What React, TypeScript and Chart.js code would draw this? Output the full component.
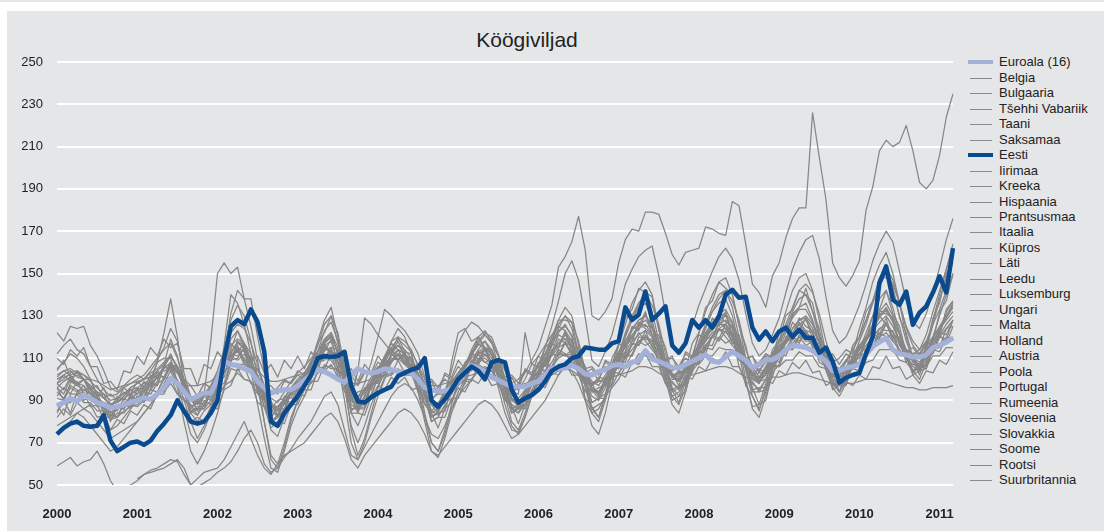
import React, { useEffect, useRef } from "react";
import { Chart, registerables } from "chart.js";

Chart.register(...registerables);

const TITLE = "Köögiviljad";
const years = ["2000", "2001", "2002", "2003", "2004", "2005", "2006", "2007", "2008", "2009", "2010", "2011"];
const yMin = 50;
const yMax = 250;
const yStep = 20;

const euroala = [
  87.5, 89, 91, 89.5, 92.5, 91, 89, 88, 86.5, 87, 88, 89,
  90, 91.3, 90.5, 93, 96, 100.5, 98, 94.3, 90.3, 92, 93.5, 93.5,
  100, 108.5, 107, 106.5, 105, 103.7, 99, 96, 93.5, 94.5, 95, 95,
  97, 99.5, 102, 104.5, 103.5, 102, 100, 98.5, 102, 105, 103.5, 103,
  103.5, 105, 104.5, 103.7, 103.5, 103, 100, 96, 95, 94.3, 94.5, 95.5,
  99, 103, 106.5, 105, 103.7, 101, 99.5, 98, 96.6, 96.5, 96.6, 98,
  99, 102, 105.3, 105, 105.3, 106.5, 105, 102.5, 102, 103.7, 104.5, 106.5,
  107, 106, 108, 109, 113.5, 109.5, 108.5, 107, 105.5, 105.3, 107, 108.5,
  110, 111.6, 108.5, 108, 110.5, 113, 111, 109, 105.5, 107, 109.2, 109.2,
  111, 114, 116, 115.5, 115, 113.5, 111, 108.5, 104, 104, 105.3, 106,
  107, 112, 115.5, 117.5, 119.5, 114, 112, 111.5, 110.5, 110.5, 111.5, 115,
  116, 117.5, 119.5,
];

const eesti = [
  74, 77, 79, 80, 78, 77.5, 78, 83, 71, 66, 68, 70,
  70.6, 69, 71, 75.5, 79, 83, 90, 85, 80, 79, 80, 84,
  90, 110, 125, 128, 126, 133, 127, 113, 80, 78, 84, 88,
  92, 97, 102, 110, 111, 110.5, 111, 113, 97, 89.5, 89, 91.5,
  93.5, 95, 96.5, 101.5, 103, 104.5, 105.5, 110, 90, 87, 90.5, 95,
  100, 103, 106, 104, 100, 108, 109, 108, 95, 89, 91, 92.5,
  95, 99, 104, 106, 107, 110, 111, 115, 114.5, 114, 114, 117,
  118, 134, 128, 130.5, 141.5, 128, 131, 134.5, 116, 112.6, 117, 128,
  124.4, 128, 124.4, 129.7, 140, 142.3, 138.5, 139, 124.4, 118.7, 122.6, 118,
  122.6, 124.4, 120, 123.4, 119.6, 119.6, 112.5, 115, 108.5, 98.4, 100.7, 102,
  103, 112, 120, 145.6, 153.4, 137.6, 135.2, 141.5, 125.8, 131.5, 134.5, 141,
  148.7, 141, 162,
];

const belgia = [
  94, 91, 97, 95, 90, 92, 88, 89, 84, 87, 86, 91,
  90, 94, 93, 98, 100, 106, 99, 95, 87, 89, 88, 94,
  96, 106, 109, 114, 107, 105, 96, 93, 86, 90, 91, 96,
  95, 101, 100, 108, 109, 114, 105, 101, 91, 94, 95, 101,
  103, 109, 108, 112, 107, 107, 100, 98, 90, 94, 95, 100,
  100, 105, 104, 110, 108, 109, 102, 100, 93, 97, 96, 102,
  102, 107, 106, 113, 111, 114, 106, 105, 97, 101, 100, 107,
  105, 112, 111, 118, 116, 118, 110, 109, 101, 104, 103, 110,
  108, 115, 114, 120, 117, 119, 111, 110, 102, 105, 103, 110,
  108, 115, 114, 120, 116, 118, 110, 109, 101, 104, 102, 109,
  107, 114, 114, 122, 120, 121, 112, 111, 104, 107, 106, 114,
  113, 120, 119,
];

const bulgaaria = [
  59, 61, 63, 59, 61, 62, 66, 60, 52, 47, 49, 50,
  52, 55, 57, 58, 60, 62, 61, 55, 50, 53, 56, 57,
  58, 62, 68, 74, 80, 72, 64, 58, 55, 60, 64, 66,
  68, 70, 74, 78, 82, 84, 80, 72, 62, 58, 64, 68,
  72, 76, 80, 84, 86, 84, 80, 74, 66, 64, 68, 72,
  76, 80, 84, 88, 90, 88, 84, 78, 72, 74, 78, 82,
  86, 90, 96, 102, 106, 104, 98, 90, 84, 86, 92, 96,
  100, 106, 112, 118, 120, 116, 108, 98, 92, 94, 100, 104,
  108, 114, 120, 126, 128, 124, 116, 106, 100, 98, 104, 108,
  112, 118, 124, 128, 130, 126, 118, 108, 100, 98, 104, 110,
  114, 120, 126, 132, 136, 130, 122, 114, 108, 106, 112, 118,
  124, 130, 136,
];

const tsehhi = [
  84, 90, 84, 94, 95, 96, 88, 88, 80, 87, 86, 92,
  90, 97, 99, 108, 110, 110, 98, 94, 84, 86, 86, 94,
  96, 108, 114, 123, 115, 110, 96, 92, 80, 82, 84, 94,
  94, 103, 106, 117, 122, 130, 117, 106, 88, 86, 86, 97,
  99, 110, 113, 120, 113, 112, 100, 94, 82, 84, 85, 96,
  98, 108, 111, 120, 115, 114, 102, 97, 86, 88, 88, 100,
  104, 115, 118, 128, 128, 127, 112, 106, 94, 96, 97, 110,
  116, 129, 133, 143, 141, 139, 123, 115, 102, 103, 104, 117,
  122, 134, 137, 146, 143, 140, 125, 116, 102, 101, 102, 114,
  118, 130, 133, 142, 140, 136, 121, 114, 102, 103, 104, 116,
  120, 132, 137, 148, 148, 144, 129, 122, 110, 111, 114, 129,
  136, 150, 155,
];

const taani = [
  98, 95, 101, 98, 100, 95, 97, 91, 93, 90, 96, 93,
  99, 96, 102, 100, 106, 104, 105, 97, 97, 92, 98, 96,
  103, 103, 111, 109, 112, 105, 105, 97, 97, 93, 99, 98,
  104, 102, 109, 108, 115, 112, 112, 103, 102, 97, 103, 102,
  108, 106, 112, 109, 112, 106, 107, 100, 100, 96, 102, 100,
  106, 103, 109, 107, 112, 107, 108, 101, 102, 98, 104, 102,
  108, 106, 112, 111, 117, 112, 113, 105, 106, 102, 108, 106,
  112, 110, 117, 116, 121, 116, 117, 109, 110, 106, 112, 110,
  116, 114, 120, 118, 123, 117, 118, 110, 111, 106, 112, 110,
  116, 114, 120, 118, 122, 116, 117, 110, 112, 107, 112, 110,
  116, 114, 121, 120, 126, 120, 120, 113, 115, 111, 117, 116,
  122, 121, 128,
];

const saksamaa = [
  85, 89, 89, 93, 89, 89, 85, 85, 81, 84, 84, 88,
  87, 90, 90, 94, 94, 98, 93, 91, 85, 86, 86, 90,
  91, 97, 99, 103, 100, 99, 93, 91, 85, 87, 88, 93,
  93, 97, 98, 103, 104, 107, 101, 98, 91, 92, 93, 98,
  98, 102, 102, 105, 102, 102, 97, 96, 91, 93, 93, 97,
  97, 100, 100, 104, 103, 104, 99, 98, 94, 96, 96, 100,
  99, 103, 103, 107, 107, 108, 103, 102, 97, 99, 99, 103,
  103, 107, 107, 112, 111, 112, 107, 106, 101, 103, 103, 107,
  107, 111, 111, 115, 114, 114, 109, 107, 102, 103, 103, 107,
  106, 109, 109, 113, 111, 111, 106, 105, 101, 102, 101, 105,
  104, 108, 109, 114, 114, 114, 109, 108, 104, 106, 106, 111,
  111, 115, 115,
];

const iirimaa = [
  110, 107, 114, 111, 115, 106, 106, 98, 99, 95, 104, 103,
  111, 107, 115, 111, 119, 115, 117, 105, 105, 97, 107, 105,
  113, 109, 117, 113, 117, 109, 111, 103, 107, 101, 109, 105,
  111, 105, 113, 109, 117, 111, 113, 103, 105, 99, 107, 103,
  111, 107, 115, 109, 113, 105, 107, 97, 99, 93, 103, 101,
  109, 105, 113, 109, 115, 107, 109, 99, 101, 95, 105, 103,
  111, 107, 117, 115, 123, 115, 115, 103, 105, 99, 109, 107,
  117, 115, 125, 123, 131, 121, 121, 109, 111, 103, 113, 111,
  121, 119, 129, 125, 131, 121, 121, 109, 111, 103, 111, 109,
  119, 117, 127, 123, 129, 119, 119, 107, 109, 101, 109, 107,
  115, 113, 123, 121, 129, 119, 119, 109, 111, 105, 115, 113,
  121, 117, 125,
];

const kreeka = [
  112, 116, 119, 114, 112, 106, 100, 95, 92, 93, 96, 98,
  100, 102, 106, 110, 114, 117, 110, 100, 91, 88, 92, 97,
  104, 114, 122, 126, 124, 117, 107, 96, 87, 85, 89, 94,
  97, 101, 107, 113, 119, 122, 115, 104, 92, 87, 91, 96,
  101, 106, 111, 114, 112, 108, 101, 93, 85, 83, 87, 93,
  98, 103, 108, 112, 114, 110, 103, 95, 88, 86, 90, 97,
  102, 107, 112, 117, 121, 117, 108, 99, 92, 90, 96, 103,
  110, 116, 121, 125, 128, 124, 115, 105, 98, 96, 101, 108,
  114, 119, 124, 128, 130, 124, 115, 105, 98, 95, 100, 107,
  112, 117, 122, 126, 128, 122, 114, 105, 100, 98, 101, 107,
  112, 118, 124, 129, 133, 127, 118, 111, 106, 104, 109, 116,
  121, 126, 130,
];

const hispaania = [
  96, 90, 98, 104, 100, 96, 92, 96, 88, 90, 94, 92,
  96, 94, 98, 104, 100, 108, 104, 96, 90, 92, 98, 96,
  100, 106, 112, 118, 114, 108, 100, 96, 94, 96, 100, 98,
  102, 100, 104, 110, 116, 112, 108, 102, 96, 98, 104, 102,
  106, 104, 108, 112, 108, 104, 100, 98, 94, 96, 100, 98,
  102, 104, 106, 112, 108, 106, 102, 100, 98, 100, 104, 102,
  106, 104, 108, 114, 112, 108, 104, 100, 98, 100, 106, 104,
  108, 112, 116, 122, 118, 114, 110, 106, 104, 106, 110, 108,
  112, 116, 120, 124, 120, 116, 112, 108, 106, 108, 112, 110,
  114, 118, 122, 126, 122, 118, 114, 110, 108, 110, 114, 112,
  116, 120, 124, 130, 126, 122, 118, 114, 112, 114, 118, 116,
  120, 124, 128,
];

const prantsusmaa = [
  98, 102, 104, 101, 100, 97, 94, 91, 88, 89, 92, 96,
  98, 100, 101, 104, 107, 111, 106, 99, 92, 90, 93, 96,
  100, 106, 111, 115, 113, 108, 101, 93, 88, 87, 90, 94,
  98, 100, 103, 108, 111, 113, 108, 101, 94, 92, 95, 98,
  102, 105, 109, 110, 107, 104, 99, 94, 89, 88, 91, 96,
  100, 102, 106, 109, 110, 107, 102, 97, 92, 91, 95, 100,
  104, 107, 111, 115, 117, 113, 108, 101, 96, 94, 99, 104,
  109, 113, 118, 121, 123, 120, 114, 107, 101, 99, 103, 108,
  112, 116, 120, 123, 124, 120, 114, 107, 101, 99, 102, 106,
  110, 113, 117, 120, 120, 116, 112, 107, 103, 101, 103, 106,
  108, 112, 116, 120, 122, 118, 114, 110, 107, 106, 110, 114,
  116, 118, 120,
];

const itaalia = [
  91, 90, 96, 94, 97, 90, 91, 84, 85, 82, 88, 87,
  92, 89, 95, 94, 101, 100, 100, 90, 88, 83, 90, 88,
  95, 96, 105, 104, 106, 98, 97, 87, 86, 82, 89, 88,
  94, 92, 99, 99, 107, 105, 105, 94, 91, 85, 92, 91,
  97, 95, 101, 98, 101, 95, 96, 88, 88, 84, 91, 90,
  96, 94, 100, 98, 103, 97, 98, 90, 91, 87, 93, 92,
  98, 96, 103, 102, 108, 102, 102, 94, 95, 91, 98, 97,
  103, 101, 108, 107, 112, 106, 106, 98, 99, 95, 102, 100,
  106, 104, 110, 108, 113, 106, 106, 98, 99, 94, 100, 98,
  104, 102, 108, 105, 109, 103, 104, 97, 99, 94, 99, 97,
  102, 100, 106, 105, 111, 105, 106, 100, 102, 98, 104, 103,
  109, 107, 113,
];

const kypros = [
  122, 118, 125, 124, 125, 116, 111, 104, 96, 94, 97, 100,
  102, 100, 104, 109, 115, 124, 118, 103, 91, 88, 93, 118,
  150, 155, 150, 153, 138, 138, 120, 104, 90, 82, 86, 94,
  98, 102, 108, 116, 126, 130, 122, 106, 90, 86, 92, 98,
  104, 110, 118, 120, 118, 114, 106, 96, 84, 86, 92, 98,
  102, 106, 112, 118, 122, 120, 112, 100, 90, 88, 94, 100,
  104, 109, 116, 124, 130, 127, 118, 104, 96, 93, 100, 106,
  112, 121, 128, 136, 140, 135, 126, 112, 102, 99, 104, 110,
  116, 125, 132, 138, 142, 137, 128, 114, 106, 101, 106, 112,
  118, 126, 134, 142, 145, 141, 131, 118, 108, 104, 108, 114,
  120, 128, 137, 145, 150, 145, 136, 124, 116, 112, 118, 126,
  133, 142, 149,
];

const lati = [
  96, 99, 101, 97, 100, 95, 91, 87, 83, 86, 89, 91,
  93, 95, 97, 101, 106, 112, 105, 95, 85, 83, 88, 93,
  99, 109, 119, 123, 117, 109, 99, 87, 79, 82, 89, 93,
  97, 99, 105, 111, 117, 121, 112, 99, 85, 88, 95, 99,
  105, 111, 117, 114, 112, 109, 103, 93, 85, 88, 95, 99,
  103, 107, 113, 117, 114, 112, 105, 99, 95, 98, 103, 109,
  115, 125, 135, 153, 158, 165, 177, 161, 130, 128, 132, 138,
  155, 166, 171, 170, 179, 179, 178, 169, 159, 154, 160, 161,
  162, 172, 171, 169, 168, 184, 182, 164, 145, 141, 134, 149,
  155, 167, 176, 181, 181, 226, 205, 185, 155, 148, 144, 149,
  156, 180, 191, 208, 213, 210, 212, 220, 208, 193, 190, 194,
  206, 224, 235,
];

const leedu = [
  105, 108, 112, 110, 106, 100, 92, 84, 76, 78, 82, 86,
  90, 94, 100, 108, 122, 138, 120, 98, 80, 72, 78, 86,
  96, 112, 128, 135, 130, 118, 100, 80, 62, 58, 68, 80,
  90, 98, 108, 118, 128, 134, 120, 100, 76, 64, 72, 84,
  96, 108, 118, 124, 120, 112, 100, 84, 70, 66, 76, 88,
  98, 106, 114, 120, 123, 118, 106, 92, 80, 76, 84, 94,
  104, 112, 120, 128, 134, 130, 116, 100, 86, 82, 92, 104,
  116, 126, 136, 142, 146, 140, 124, 108, 96, 92, 100, 110,
  122, 132, 140, 146, 148, 140, 126, 110, 96, 88, 98, 110,
  122, 132, 142, 148, 150, 142, 128, 112, 100, 94, 102, 112,
  124, 134, 146, 154, 160, 150, 136, 120, 110, 106, 116, 128,
  140, 152, 164,
];

const luksemburg = [
  100, 101, 102, 103, 102, 100, 99, 97, 95, 96, 97, 98,
  99, 100, 101, 103, 104, 105, 103, 100, 97, 97, 98, 99,
  102, 104, 106, 107, 107, 106, 104, 101, 99, 99, 100, 101,
  102, 103, 104, 105, 106, 106, 104, 101, 98, 98, 99, 100,
  101, 102, 103, 104, 104, 103, 101, 99, 97, 97, 98, 99,
  100, 101, 102, 103, 103, 102, 100, 98, 97, 97, 98, 99,
  100, 101, 102, 104, 105, 104, 102, 100, 98, 99, 100, 101,
  102, 103, 104, 106, 106, 105, 103, 101, 100, 100, 101, 102,
  103, 104, 105, 106, 106, 105, 103, 101, 100, 99, 100, 101,
  101, 102, 103, 103, 102, 101, 100, 99, 98, 97, 98, 98,
  99, 100, 100, 100, 99, 98, 97, 96, 96, 95, 95, 96,
  96, 96, 97,
];

const ungari = [
  88, 83, 93, 93, 94, 87, 88, 81, 83, 82, 89, 86,
  92, 91, 98, 97, 106, 107, 106, 94, 91, 85, 92, 90,
  97, 98, 109, 110, 115, 106, 102, 90, 88, 83, 90, 89,
  96, 95, 103, 104, 114, 115, 114, 99, 92, 84, 92, 92,
  101, 102, 110, 109, 111, 104, 101, 88, 84, 77, 86, 89,
  99, 98, 107, 108, 115, 107, 103, 90, 87, 79, 88, 92,
  102, 103, 114, 115, 122, 113, 106, 91, 87, 82, 93, 98,
  110, 113, 124, 125, 132, 121, 114, 99, 95, 89, 99, 103,
  115, 118, 127, 127, 132, 119, 112, 97, 92, 85, 96, 101,
  113, 118, 131, 134, 143, 132, 124, 109, 103, 94, 103, 107,
  116, 119, 130, 133, 142, 131, 125, 112, 109, 102, 113, 118,
  132, 137, 150,
];

const malta = [
  96, 93, 100, 97, 100, 93, 94, 86, 88, 85, 91, 89,
  95, 92, 99, 97, 106, 105, 106, 94, 92, 85, 93, 91,
  100, 101, 112, 111, 114, 103, 102, 90, 89, 83, 92, 91,
  99, 97, 106, 106, 116, 113, 112, 99, 95, 87, 96, 95,
  104, 103, 112, 109, 112, 103, 103, 92, 91, 85, 94, 93,
  101, 99, 108, 107, 114, 107, 107, 95, 94, 93, 122, 107,
  106, 103, 112, 111, 118, 111, 110, 98, 98, 92, 101, 100,
  109, 108, 117, 116, 123, 115, 114, 103, 103, 97, 105, 104,
  113, 112, 121, 119, 126, 117, 116, 105, 105, 98, 106, 105,
  113, 111, 119, 117, 123, 115, 115, 105, 106, 99, 106, 105,
  112, 111, 120, 119, 127, 118, 118, 108, 110, 104, 112, 112,
  120, 119, 128,
];

const holland = [
  102, 104, 105, 103, 100, 97, 94, 91, 88, 89, 92, 95,
  96, 98, 100, 102, 105, 108, 103, 97, 91, 89, 92, 96,
  101, 106, 111, 113, 110, 105, 99, 92, 87, 87, 91, 96,
  99, 102, 105, 108, 110, 109, 104, 97, 92, 104, 129, 126,
  121, 117, 113, 111, 109, 105, 100, 94, 89, 89, 93, 98,
  103, 106, 110, 113, 115, 112, 105, 97, 91, 89, 93, 99,
  104, 108, 113, 117, 119, 115, 108, 100, 95, 93, 98, 105,
  110, 115, 120, 124, 126, 121, 114, 106, 101, 99, 104, 110,
  115, 120, 124, 126, 126, 121, 114, 107, 102, 99, 102, 108,
  113, 117, 121, 123, 123, 118, 113, 107, 104, 102, 105, 110,
  114, 118, 123, 127, 130, 125, 118, 113, 110, 108, 113, 120,
  125, 130, 135,
];

const austria = [
  98, 100, 103, 104, 102, 99, 96, 93, 90, 91, 93, 96,
  98, 100, 103, 105, 108, 111, 106, 99, 92, 90, 93, 97,
  102, 109, 116, 119, 117, 112, 105, 97, 91, 89, 94, 99,
  103, 106, 110, 113, 117, 120, 113, 103, 93, 91, 98, 108,
  120, 133, 130, 126, 123, 118, 112, 101, 90, 88, 94, 104,
  117, 123, 127, 125, 121, 117, 111, 104, 97, 95, 100, 107,
  111, 116, 121, 125, 123, 118, 111, 104, 99, 97, 102, 107,
  112, 118, 123, 128, 130, 125, 116, 108, 102, 101, 105, 111,
  116, 121, 126, 130, 131, 126, 117, 109, 103, 100, 105, 110,
  114, 119, 124, 128, 129, 124, 117, 110, 105, 102, 105, 110,
  114, 119, 125, 130, 134, 128, 121, 114, 109, 107, 112, 118,
  123, 129, 134,
];

const poola = [
  78, 80, 82, 84, 82, 78, 74, 70, 66, 68, 72, 76,
  80, 84, 88, 94, 100, 106, 98, 86, 74, 70, 76, 84,
  96, 116, 140, 136, 126, 112, 96, 80, 64, 60, 70, 82,
  90, 96, 102, 110, 118, 122, 112, 96, 78, 70, 78, 88,
  96, 104, 112, 116, 112, 106, 96, 82, 70, 66, 74, 86,
  94, 100, 108, 114, 118, 112, 100, 88, 78, 74, 82, 92,
  102, 110, 118, 126, 130, 124, 112, 96, 84, 80, 90, 102,
  112, 122, 130, 136, 140, 132, 118, 104, 92, 88, 96, 108,
  118, 126, 134, 140, 142, 134, 120, 104, 92, 86, 94, 106,
  116, 124, 132, 138, 140, 132, 120, 108, 98, 94, 100, 110,
  118, 126, 136, 144, 150, 142, 130, 118, 110, 106, 114, 126,
  138, 148, 158,
];

const portugal = [
  92, 96, 93, 99, 93, 94, 87, 88, 82, 87, 86, 93,
  90, 96, 95, 102, 101, 108, 99, 96, 85, 87, 87, 95,
  96, 107, 109, 116, 109, 106, 94, 90, 80, 83, 84, 95,
  95, 102, 103, 112, 113, 119, 108, 101, 86, 86, 87, 99,
  102, 111, 112, 118, 111, 110, 99, 93, 80, 82, 88, 108,
  122, 124, 118, 120, 114, 114, 103, 97, 84, 86, 88, 101,
  103, 112, 113, 121, 119, 119, 106, 100, 89, 91, 93, 105,
  108, 118, 119, 127, 125, 125, 112, 106, 94, 96, 98, 109,
  112, 122, 123, 130, 127, 125, 112, 106, 94, 94, 95, 107,
  110, 120, 121, 129, 125, 123, 112, 107, 96, 98, 98, 109,
  110, 120, 122, 131, 131, 129, 116, 113, 103, 106, 107, 118,
  122, 133, 137,
];

const rumeenia = [
  null, null, null, null, null, null, null, null, null, null, null, null,
  53, 55, 56, 57, 58, 60, 62, 58, 50, 49, 51, 53,
  56, 58, 61, 66, 72, 76, 70, 60, 56, 58, 63, 67,
  72, 76, 80, 86, 92, 94, 88, 76, 64, 62, 68, 74,
  80, 86, 92, 96, 98, 96, 90, 82, 74, 72, 78, 86,
  92, 96, 100, 104, 106, 104, 98, 92, 86, 84, 88, 94,
  98, 102, 106, 110, 112, 110, 104, 98, 94, 94, 98, 102,
  106, 110, 114, 118, 120, 118, 112, 106, 102, 102, 106, 110,
  114, 118, 122, 124, 126, 122, 116, 110, 106, 104, 108, 112,
  116, 118, 120, 122, 122, 118, 114, 110, 106, 104, 106, 110,
  112, 116, 120, 124, 126, 122, 118, 114, 112, 112, 116, 120,
  124, 128, 132,
];

const sloveenia = [
  100, 102, 99, 97, 95, 93, 91, 89, 88, 89, 91, 93,
  95, 96, 98, 101, 106, 111, 106, 98, 91, 89, 92, 96,
  100, 106, 113, 117, 115, 109, 102, 94, 88, 86, 91, 96,
  100, 103, 108, 113, 118, 120, 113, 103, 93, 90, 94, 99,
  105, 110, 114, 116, 114, 110, 103, 95, 88, 86, 91, 98,
  103, 107, 112, 116, 118, 114, 107, 98, 91, 89, 94, 101,
  107, 112, 118, 123, 125, 121, 112, 103, 96, 94, 100, 107,
  113, 118, 124, 128, 130, 126, 118, 109, 102, 100, 105, 111,
  116, 122, 127, 131, 133, 127, 119, 110, 103, 100, 105, 112,
  118, 123, 129, 133, 133, 127, 120, 113, 107, 105, 109, 114,
  120, 128, 137, 146, 153, 147, 136, 125, 118, 114, 121, 132,
  142, 152, 162,
];

const slovakkia = [
  74, 76, 80, 84, 86, 84, 80, 76, 72, 74, 76, 78,
  80, 84, 88, 92, 98, 104, 96, 80, 66, 60, 66, 74,
  84, 96, 108, 118, 116, 104, 88, 72, 58, 56, 66, 78,
  86, 92, 100, 108, 116, 118, 108, 90, 70, 62, 70, 82,
  92, 100, 108, 112, 110, 104, 94, 80, 66, 63, 72, 84,
  92, 98, 106, 112, 114, 108, 96, 84, 76, 75, 82, 92,
  100, 108, 116, 122, 126, 120, 106, 90, 78, 74, 84, 98,
  110, 120, 128, 134, 136, 128, 114, 100, 88, 84, 94, 106,
  116, 124, 132, 136, 138, 130, 116, 100, 86, 82, 92, 104,
  114, 122, 130, 134, 136, 128, 116, 104, 96, 92, 98, 108,
  114, 122, 130, 138, 142, 134, 122, 112, 104, 100, 108, 120,
  130, 140, 150,
];

const soome = [
  104, 109, 101, 102, 100, 100, 92, 93, 86, 92, 90, 95,
  93, 99, 96, 102, 101, 107, 98, 96, 86, 89, 88, 96,
  97, 107, 109, 115, 108, 106, 94, 91, 82, 86, 86, 95,
  94, 101, 101, 110, 110, 115, 105, 100, 86, 87, 88, 98,
  99, 107, 108, 114, 108, 107, 96, 92, 82, 84, 85, 96,
  97, 104, 105, 113, 111, 112, 100, 95, 84, 87, 88, 99,
  102, 110, 111, 119, 117, 116, 103, 97, 86, 88, 90, 103,
  107, 117, 118, 126, 124, 121, 108, 102, 90, 92, 94, 106,
  108, 119, 120, 127, 124, 121, 106, 99, 87, 88, 90, 103,
  107, 118, 119, 127, 123, 122, 110, 106, 95, 97, 97, 107,
  108, 119, 122, 132, 132, 129, 116, 111, 102, 104, 105, 118,
  121, 132, 137,
];

const rootsi = [
  101, 104, 102, 98, 97, 93, 91, 86, 81, 82, 85, 87,
  88, 91, 95, 99, 107, 119, 111, 97, 84, 80, 85, 88,
  97, 111, 131, 142, 138, 125, 109, 91, 76, 73, 82, 88,
  93, 98, 104, 113, 123, 127, 118, 103, 84, 78, 86, 93,
  101, 109, 115, 119, 116, 113, 107, 95, 82, 85, 91, 96,
  100, 105, 111, 117, 121, 118, 111, 99, 87, 84, 91, 99,
  107, 115, 125, 137, 150, 156, 147, 129, 109, 106, 113, 121,
  133, 145, 152, 158, 161, 163, 149, 131, 117, 112, 117, 125,
  135, 143, 151, 158, 162, 157, 147, 131, 117, 111, 114, 121,
  129, 141, 152, 160, 166, 168, 157, 139, 123, 117, 120, 127,
  135, 145, 156, 164, 170, 165, 151, 137, 127, 124, 131, 141,
  153, 166, 176,
];

const suurbritannia = [
  82, 86, 83, 89, 86, 88, 82, 83, 76, 81, 79, 85,
  83, 88, 86, 93, 93, 101, 93, 90, 80, 82, 80, 87,
  86, 95, 97, 105, 100, 99, 89, 87, 77, 80, 79, 88,
  88, 95, 95, 104, 105, 112, 102, 98, 84, 84, 83, 92,
  93, 101, 102, 109, 103, 103, 94, 91, 80, 82, 82, 91,
  91, 99, 99, 107, 105, 106, 97, 94, 84, 87, 86, 95,
  96, 104, 104, 112, 111, 112, 102, 99, 89, 91, 91, 101,
  102, 111, 111, 120, 119, 119, 108, 105, 95, 97, 97, 107,
  108, 116, 116, 124, 122, 121, 110, 106, 95, 96, 96, 106,
  106, 114, 114, 121, 118, 118, 108, 106, 97, 99, 98, 107,
  106, 114, 115, 124, 123, 123, 113, 111, 103, 106, 105, 114,
  115, 124, 125,
];

const legendNames = [
  "Euroala (16)", "Belgia", "Bulgaaria", "Tšehhi Vabariik", "Taani", "Saksamaa", "Eesti",
  "Iirimaa", "Kreeka", "Hispaania", "Prantsusmaa", "Itaalia", "Küpros", "Läti", "Leedu",
  "Luksemburg", "Ungari", "Malta", "Holland", "Austria", "Poola", "Portugal", "Rumeenia",
  "Sloveenia", "Slovakkia", "Soome", "Rootsi", "Suurbritannia",
];

const seriesValues: Record<string, (number | null)[]> = {
  "Euroala (16)": euroala,
  "Belgia": belgia,
  "Bulgaaria": bulgaaria,
  "Tšehhi Vabariik": tsehhi,
  "Taani": taani,
  "Saksamaa": saksamaa,
  "Eesti": eesti,
  "Iirimaa": iirimaa,
  "Kreeka": kreeka,
  "Hispaania": hispaania,
  "Prantsusmaa": prantsusmaa,
  "Itaalia": itaalia,
  "Küpros": kypros,
  "Läti": lati,
  "Leedu": leedu,
  "Luksemburg": luksemburg,
  "Ungari": ungari,
  "Malta": malta,
  "Holland": holland,
  "Austria": austria,
  "Poola": poola,
  "Portugal": portugal,
  "Rumeenia": rumeenia,
  "Sloveenia": sloveenia,
  "Slovakkia": slovakkia,
  "Soome": soome,
  "Rootsi": rootsi,
  "Suurbritannia": suurbritannia,
};

const GREY = "#868686";
const EESTI_BLUE = "#0a4a8e";
const EURO_BLUE = "#a3b1d9";
const PANEL = "#e5e6e8";
const TEXT = "#222222";
const FONT = "'Liberation Sans', Arial, Helvetica, sans-serif";

function styleFor(name: string) {
  if (name === "Eesti") return { color: EESTI_BLUE, width: 4.5, order: 0 };
  if (name === "Euroala (16)") return { color: EURO_BLUE, width: 5, order: 1 };
  return { color: GREY, width: 1.25, order: 2 };
}

export default function App() {
  const canvasRef = useRef<HTMLCanvasElement | null>(null);

  useEffect(() => {
    if (!canvasRef.current) return;
    const n = euroala.length;
    const labels = Array.from({ length: n }, (_, i) => (i % 12 === 0 ? years[i / 12] : ""));
    const datasets = legendNames.map((name) => {
      const st = styleFor(name);
      return {
        label: name,
        data: seriesValues[name],
        borderColor: st.color,
        backgroundColor: st.color,
        borderWidth: st.width,
        order: st.order,
        pointRadius: 0,
        tension: 0,
        fill: false,
        borderJoinStyle: "round" as const,
        spanGaps: false,
      };
    });
    const chart = new Chart(canvasRef.current, {
      type: "line",
      data: { labels, datasets },
      options: {
        animation: false,
        responsive: false,
        devicePixelRatio: 1,
        events: [],
        layout: { padding: { top: 51, right: 10, left: 0, bottom: 0 } },
        plugins: {
          legend: { display: false },
          title: { display: false },
          tooltip: { enabled: false },
        },
        scales: {
          x: {
            type: "category",
            grid: { display: false },
            border: { display: false },
            ticks: {
              autoSkip: false,
              maxRotation: 0,
              minRotation: 0,
              padding: 14,
              color: TEXT,
              font: { family: FONT, size: 13, weight: "bold" },
            },
            afterFit: (scale: any) => {
              scale.height = 42;
            },
          },
          y: {
            min: yMin,
            max: yMax,
            grid: { color: "#ffffff", lineWidth: 2, drawTicks: false },
            border: { display: false },
            ticks: {
              stepSize: yStep,
              padding: 14,
              color: TEXT,
              font: { family: FONT, size: 13 },
            },
            afterFit: (scale: any) => {
              scale.width = 50;
            },
          },
        },
      },
    });
    return () => chart.destroy();
  }, []);

  const legendTop = 62.3;
  const legendStep = 15.47;

  return (
    <div
      style={{
        position: "absolute",
        left: 0,
        top: 0,
        width: 1106,
        height: 531,
        background: "#ffffff",
        overflow: "hidden",
        fontFamily: FONT,
      }}
    >
      <div style={{ position: "absolute", left: 0, top: 0, width: 1104, height: 2, background: PANEL }} />
      <div style={{ position: "absolute", left: 7, top: 11, width: 1097, height: 520, background: PANEL }} />
      <div
        style={{
          position: "absolute",
          left: 427,
          top: 28,
          width: 200,
          textAlign: "center",
          fontSize: 21,
          lineHeight: "24px",
          color: TEXT,
        }}
      >
        {TITLE}
      </div>
      <canvas
        ref={canvasRef}
        width={960}
        height={516}
        style={{ position: "absolute", left: 7, top: 11, width: 960, height: 516 }}
      />
      {legendNames.map((name, k) => {
        const st = styleFor(name);
        const cy = Math.round(legendTop + k * legendStep);
        const thick = st.width > 2;
        const lw = thick ? 4 : 1;
        return (
          <div key={name}>
            <div
              style={{
                position: "absolute",
                left: thick ? 968 : 970,
                top: thick ? cy - 2 : cy,
                width: thick ? 25 : 22,
                height: lw,
                background: thick ? st.color : "#8a8a8a",
              }}
            />
            <div
              style={{
                position: "absolute",
                left: 999,
                top: cy - 8,
                height: 16,
                lineHeight: "16px",
                fontSize: 13,
                color: TEXT,
                whiteSpace: "nowrap",
              }}
            >
              {name}
            </div>
          </div>
        );
      })}
    </div>
  );
}
